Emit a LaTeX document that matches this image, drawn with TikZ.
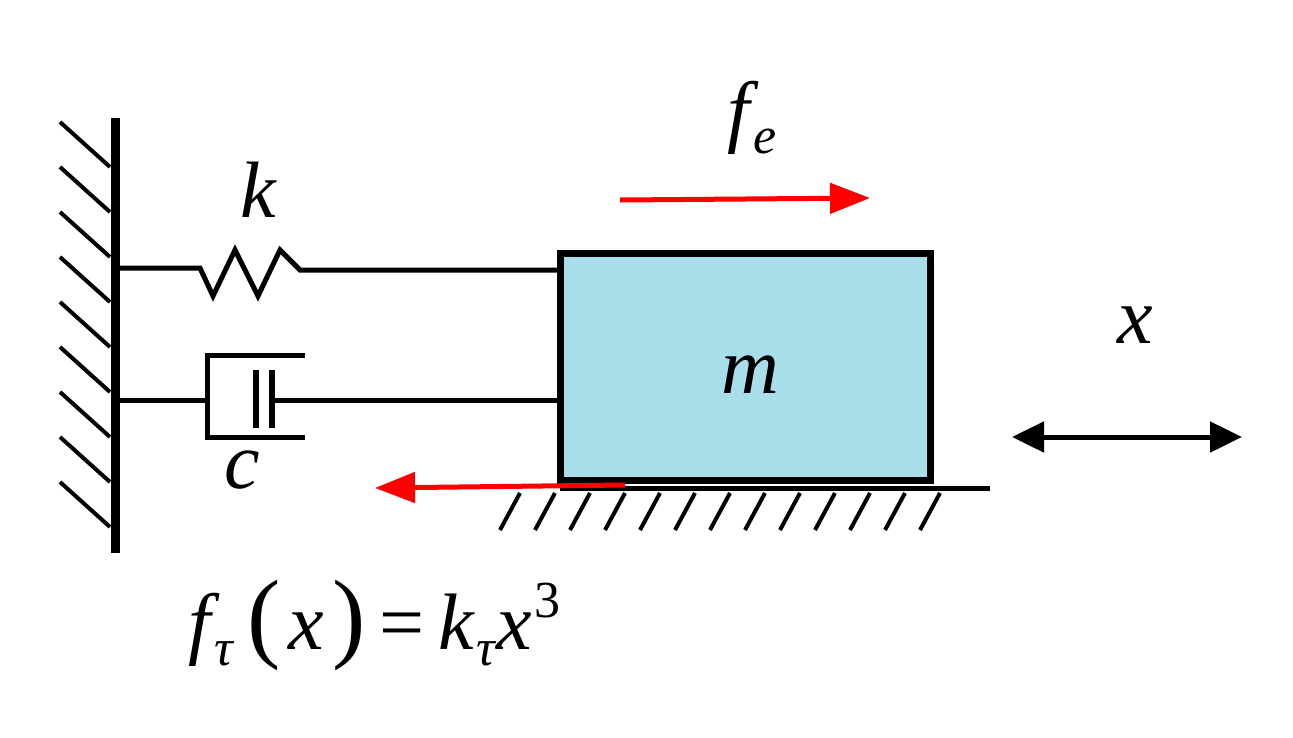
\documentclass[tikz,border=0pt]{standalone}
\usepackage{fontspec}
\setmainfont{Liberation Serif}
\usetikzlibrary{arrows.meta}
\newcommand{\subs}[1]{\raisebox{-16pt}{\fontsize{52}{52}\selectfont\itshape #1}}
\newcommand{\sups}[1]{\raisebox{32pt}{\fontsize{52}{52}\selectfont #1}}
\begin{document}
\begin{tikzpicture}[x=1pt,y=-1pt,
  ln/.style={line width=5pt},
  hat/.style={line width=4pt},
  lab/.style={font=\fontsize{80}{84}\selectfont\itshape},
  red arrow/.style={draw=red,line width=5pt,-{Triangle[length=40pt,width=30pt]}}]
\useasboundingbox (0,0) rectangle (1293,737);
% wall
\coordinate (wt) at (115,118); \coordinate (wb) at (115,553);
\draw[line width=9pt] (wt) -- (wb);
\foreach \y in {122,167,212,257,302,347,392,437,482} \draw[hat] (60,\y) -- (110,\y+45);
% mass
\node[draw,fill={rgb,255:red,168;green,222;blue,233},line width=7pt,minimum width=370pt,minimum height=227pt,inner sep=0pt] (m) at (745,367) {};
\node[lab] at (750,375) {m};
% spring
\coordinate (s0) at (115,268);
\coordinate (s1) at (560,270);
\draw[ln,line join=miter] (s0) -- (200,268) -- (213,296) -- (235,250) -- (258,296) -- (280,250) -- (300,270) -- (s1);
% damper
\coordinate (d0) at (115,400); \coordinate (d1) at (560,400);
\draw[ln] (d0) -- (207,400);
\draw[ln] (305,355) -- (207,355) -- (207,437) -- (305,437);
\draw[line width=6pt] (256,370) -- (256,428);
\draw[line width=6pt] (272,370) -- (272,428);
\draw[ln] (272,400) -- (d1);
% ground
\coordinate (g0) at (560,488); \coordinate (g1) at (990,488);
\draw[ln] (g0) -- (g1);
\foreach \x in {520,555,590,625,660,695,730,765,800,835,870,905,940} \draw[hat] (\x,493) -- (\x-20,530);
% red arrows
\coordinate (a0) at (620,200); \coordinate (a1) at (870,198);
\draw[red arrow] (a0) -- (a1);
\coordinate (b0) at (625,485); \coordinate (b1) at (375,488);
\draw[red arrow] (b0) -- (b1);
% double arrow
\coordinate (x0) at (1012,437); \coordinate (x1) at (1242,437);
\draw[line width=5pt,{Triangle[length=32pt,width=30pt]}-{Triangle[length=32pt,width=30pt]}] (x0) -- (x1);
% labels
\node[lab] (k) at (258,190) {k};
\node[lab] (c) at (242,470) {c};
\node[lab] (fe) at (752,118) {f\kern4pt\subs{e}};
\node[lab] (x) at (1135,325) {x};
\node[lab,anchor=west] (eq) at (185,625) {f\kern4pt\subs{τ}\kern14pt{\upshape\fontsize{100}{100}\selectfont(}\kern8pt x\kern8pt{\upshape\fontsize{100}{100}\selectfont)}\kern14pt{\upshape =}\kern14pt k\kern2pt\subs{τ}\kern2pt x\kern2pt\sups{\upshape 3}};
\end{tikzpicture}
\end{document}
